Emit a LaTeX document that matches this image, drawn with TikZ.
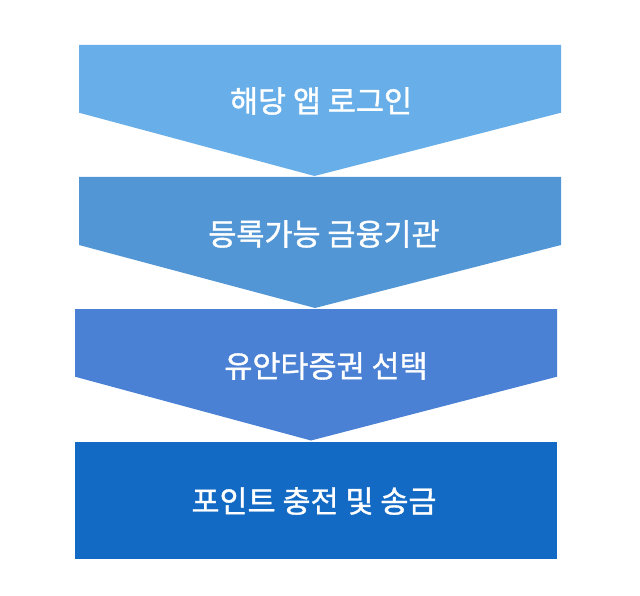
\documentclass[tikz,border=0pt]{standalone}
\usepackage{fontspec}
\setmainfont{Noto Sans CJK KR}
\newfontfamily\lblfont{Noto Sans CJK KR}[FakeBold=1.2]
\definecolor{cA}{RGB}{104,174,232}
\definecolor{cB}{RGB}{82,150,213}
\definecolor{cC}{RGB}{74,129,212}
\definecolor{cD}{RGB}{19,106,197}
\tikzset{lbl/.style={text=white,inner sep=0pt,font=\lblfont\fontsize{30.5}{33}\selectfont}}
\begin{document}
\begin{tikzpicture}[x=1pt,y=-1pt]
\useasboundingbox (0,0) rectangle (640,596);
\fill[cA] (79,45) -- (561,45) -- (561,112.7) -- (314.5,176) -- (79,112.7) -- cycle;
\fill[cB] (79,177) -- (561,177) -- (561,245) -- (315,308) -- (79,245) -- cycle;
\fill[cC] (75,309) -- (557,309) -- (557,376.7) -- (311,440.5) -- (75,376.7) -- cycle;
\fill[cD] (75,441.7) rectangle (557,559.3);
\node[lbl] (t1) at (321,101) {해당 앱 로그인};
\node[lbl] (t2) at (324,234) {등록가능 금융기관};
\node[lbl] (t3) at (326,366) {유안타증권 선택};
\node[lbl] (t4) at (314,501) {포인트 충전 및 송금};
\end{tikzpicture}
\end{document}
